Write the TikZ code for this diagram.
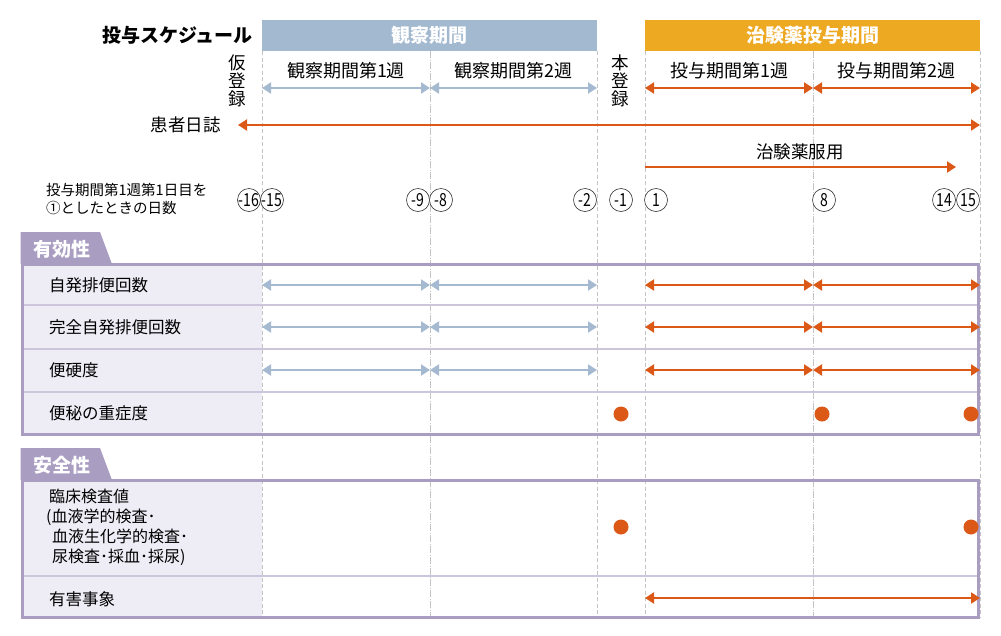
\documentclass[tikz,border=0pt]{standalone}
\usepackage{fontspec}
\setmainfont{Noto Sans CJK JP}
\usetikzlibrary{arrows.meta}
\definecolor{hblue}{HTML}{A3B9D0}
\definecolor{horange}{HTML}{EEA923}
\definecolor{aorange}{HTML}{DC5817}
\definecolor{ablue}{HTML}{A5BAD1}
\definecolor{purp}{HTML}{A99DC2}
\definecolor{lpurp}{HTML}{EEECF5}
\definecolor{rowline}{HTML}{CCC5DC}
\definecolor{vline}{HTML}{C4C4C4}
\tikzset{
  tipO/.tip={Triangle[length=9pt,width=11pt]},
  oarr/.style={draw=aorange, line width=2pt, tipO-tipO},
  oarrR/.style={draw=aorange, line width=2pt, -tipO},
  barr/.style={draw=ablue, line width=2pt, tipO-tipO},
  odot/.style={circle, fill=aorange, minimum size=15pt, inner sep=0pt},
  cnum/.style={circle, draw=black!80, line width=0.6pt, fill=white, minimum size=23pt, inner sep=0pt, font=\fontsize{18}{18}\selectfont},
  hdr/.style={minimum height=31pt, inner sep=0pt, text=white, font=\fontsize{19}{19}\selectfont\bfseries},
  wk/.style={inner sep=0pt, font=\fontsize{18}{18}\selectfont},
  vtxt/.style={inner sep=0pt, align=center, font=\fontsize{17.5}{18}\selectfont},
  lbl/.style={anchor=west, inner sep=0pt, font=\fontsize{16.5}{20}\selectfont, align=left},
  tabtxt/.style={inner sep=0pt, text=white, font=\fontsize{19}{19}\selectfont\bfseries},
  vdash/.style={draw=vline, line width=0.9pt, dash pattern=on 4pt off 2.5pt},
  vdot/.style={draw=vline, line width=0.9pt, dash pattern=on 7pt off 1.5pt on 1pt off 1.5pt},
  rline/.style={draw=rowline, line width=1.3pt},
  boxb/.style={draw=purp, line width=3pt},
}
\newcommand{\cn}[1]{\raisebox{-0.36em}[0pt][0pt]{\makebox[0pt]{\scalebox{0.78}[1]{#1}}}}
\begin{document}
\begin{tikzpicture}[x=1pt,y=-1pt]
\useasboundingbox (0,0) rectangle (1001,635);
% left column fills
\fill[lpurp] (22,264) rectangle (262,434);
\fill[lpurp] (22,480) rectangle (262,617);
% vertical guide lines
\foreach \xx in {262,597,645,980} { \draw[vdash] (\xx,51) -- (\xx,617); }
\foreach \xx in {430,813} { \draw[vdot] (\xx,51) -- (\xx,617); }
% row lines
\foreach \yy in {305,349,392} { \draw[rline] (22,\yy) -- (978,\yy); }
\draw[rline] (22,576) -- (978,576);
% boxes
\draw[boxb] (22,264) rectangle (978,434);
\draw[boxb] (22,480) rectangle (978,617);
% tabs
\fill[purp] (20.5,232) -- (100,232) -- (112,264) -- (20.5,264) -- cycle;
\fill[purp] (20.5,448) -- (100,448) -- (112,480) -- (20.5,480) -- cycle;
\node[tabtxt] (tab1) at (62,249) {有効性};
\node[tabtxt] (tab2) at (62,465) {安全性};
% headers
\node[anchor=east, inner sep=0pt, font=\fontsize{19}{19}\selectfont\bfseries] (title) at (253,35) {投与スケジュール};
\node[hdr, fill=hblue, minimum width=335pt] (hobs) at (429.5,35) {観察期間};
\node[hdr, fill=horange, minimum width=335pt] (htrt) at (812.5,35) {治験薬投与期間};
% week labels
\node[wk] (w1) at (346,71) {観察期間第1週};
\node[wk] (w2) at (513,71) {観察期間第2週};
\node[wk] (w3) at (729,71) {投与期間第1週};
\node[wk] (w4) at (896,71) {投与期間第2週};
\node[vtxt] (kari) at (237,81) {仮\\登\\録};
\node[vtxt] (hon) at (620,81) {本\\登\\録};
% coordinates
\coordinate (a262) at (262,88); \coordinate (a430) at (430,88); \coordinate (a597) at (597,88);
\coordinate (a645) at (645,88); \coordinate (a813) at (813,88); \coordinate (a980) at (980,88);
\draw[barr] (a262) -- (a430);
\draw[barr] (a430) -- (a597);
\draw[oarr] (a645) -- (a813);
\draw[oarr] (a813) -- (a980);
% diary
\node[anchor=east, inner sep=0pt, font=\fontsize{17.5}{18}\selectfont] (diary) at (221,125) {患者日誌};
\coordinate (d0) at (238,125); \coordinate (d1) at (980,125);
\draw[oarr] (d0) -- (d1);
% drug
\node[inner sep=0pt, font=\fontsize{17.5}{18}\selectfont] (drug) at (800,152) {治験薬服用};
\coordinate (g0) at (645,167); \coordinate (g1) at (956,167);
\draw[oarrR] (g0) -- (g1);
% day label
\node[anchor=west, inner sep=0pt, align=left, font=\fontsize{14.5}{18}\selectfont] (daylbl) at (46,199) {投与期間第1週第1日目を\\①としたときの日数};
% circled numbers
\node[cnum] (cm16) at (249,200) {\cn{-16}};
\node[cnum] (cm15) at (272,200) {\cn{-15}};
\node[cnum] (cm9) at (418,200) {\cn{-9}};
\node[cnum] (cm8) at (441,200) {\cn{-8}};
\node[cnum] (cm2) at (585,200) {\cn{-2}};
\node[cnum] (cm1) at (621,200) {\cn{-1}};
\node[cnum] (c1) at (656,200) {\cn{1}};
\node[cnum] (c8) at (824,200) {\cn{8}};
\node[cnum] (c14) at (944,200) {\cn{14}};
\node[cnum] (c15) at (968,200) {\cn{15}};
% efficacy rows
\node[lbl] (r1) at (49,285) {自発排便回数};
\node[lbl] (r2) at (49,327) {完全自発排便回数};
\node[lbl] (r3) at (49,370) {便硬度};
\node[lbl] (r4) at (49,413) {便秘の重症度};
\foreach \yy/\nm in {285/p,327/q,370/r} {
  \coordinate (\nm1) at (262,\yy); \coordinate (\nm2) at (430,\yy); \coordinate (\nm3) at (597,\yy);
  \coordinate (\nm4) at (645,\yy); \coordinate (\nm5) at (813,\yy); \coordinate (\nm6) at (980,\yy);
  \draw[barr] (\nm1) -- (\nm2);
  \draw[barr] (\nm2) -- (\nm3);
  \draw[oarr] (\nm4) -- (\nm5);
  \draw[oarr] (\nm5) -- (\nm6);
}
\node[odot] (e1) at (621,414) {};
\node[odot] (e2) at (822,414) {};
\node[odot] (e3) at (971,414) {};
% safety rows
\node[lbl, font=\fontsize{16}{20}\selectfont] (s1) at (46,527) {\hspace{3pt}臨床検査値\\(血液学的検査･\\\hspace{6pt}血液生化学的検査･\\\hspace{6pt}尿検査･採血･採尿)};
\node[lbl] (s2) at (49,599) {有害事象};
\node[odot] (f1) at (621,527) {};
\node[odot] (f2) at (971,527) {};
\coordinate (h0) at (645,598); \coordinate (h1) at (980,598);
\draw[oarr] (h0) -- (h1);
\end{tikzpicture}
\end{document}
